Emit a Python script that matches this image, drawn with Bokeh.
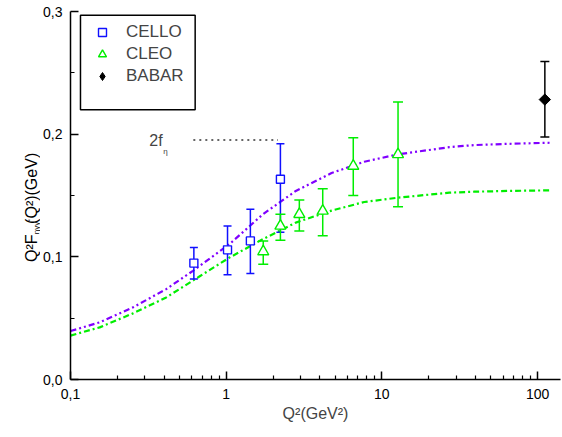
from math import pi
from bokeh.plotting import figure
from bokeh.layouts import row
from bokeh.core.properties import value
from bokeh.models import (FixedTicker, Legend, LegendItem,
                          BoxAnnotation, Label, Range1d)
from bokeh.embed import file_html
from bokeh.resources import INLINE

# ---------------- data ----------------
cello_q2 = [0.62, 1.02, 1.43, 2.23]
cello_val = [0.0949, 0.1057, 0.1130, 0.1632]
cello_lo = [0.0819, 0.0854, 0.0864, 0.1200]
cello_hi = [0.1076, 0.1252, 0.1388, 0.1921]

cleo_q2 = [1.73, 2.23, 2.95, 4.17, 6.55, 12.7]
cleo_val = [0.1043, 0.1252, 0.1347, 0.1374, 0.1740, 0.1835]
cleo_lo = [0.0940, 0.1136, 0.1211, 0.1171, 0.1500, 0.1409]
cleo_hi = [0.1130, 0.1347, 0.1463, 0.1555, 0.1970, 0.2263]

babar_q2 = [111.4]
babar_val = [0.2282]
babar_lo = [0.1976]
babar_hi = [0.2593]

purple_q2 = [0.1, 0.154, 0.252, 0.412, 0.612, 1.05, 1.72, 2.80, 4.75, 7.71,
             12.6, 27.1, 39.2, 64.1, 120]
purple_val = [0.0395, 0.0466, 0.0588, 0.0737, 0.0886, 0.1103, 0.1347, 0.1537,
              0.1683, 0.1775, 0.1835, 0.1894, 0.1911, 0.1921, 0.1930]

green_q2 = [0.1, 0.154, 0.252, 0.412, 0.673, 1.05, 1.72, 2.80, 4.75, 7.71,
            12.6, 27.1, 39.2, 64.1, 120]
green_val = [0.0358, 0.0425, 0.0539, 0.0669, 0.0840, 0.0994, 0.1144, 0.1279,
             0.1377, 0.1447, 0.1482, 0.1523, 0.1531, 0.1537, 0.1542]

feta_q2 = [0.615, 2.15]
feta_val = [0.1952, 0.1952]
feta_label_q2 = 0.3206

x_major = [0.1, 1, 10, 100]
x_minor = [0.2, 0.3, 0.4, 0.5, 0.6, 0.7, 0.8, 0.9,
           2, 3, 4, 5, 6, 7, 8, 9,
           20, 30, 40, 50, 60, 70, 80, 90]
x_labels = {0.1: "0,1", 1: "1", 10: "10", 100: "100"}
y_major = [0.0, 0.1, 0.2, 0.3]
y_minor = [0.05, 0.15, 0.25]
y_labels = {0.0: "0,0", 0.1: "0,1", 0.2: "0,2", 0.3: "0,3"}

# y-axis title pieces (main text, subscript, star, rest)
ytitle_text = ["Q²F", "ηγγ", "*", "(Q²)(GeV)"]
ytitle_size = ["16px", "8px", "6px", "16px"]

BLUE = "#1010ff"
GREEN = "#00ee00"
PURPLE = "#8000ff"
FONT = "Liberation Sans"
TITLE_W = 40
H = 437

# ---------------- y-title strip ----------------
ttl = figure(width=TITLE_W, height=H, x_range=Range1d(0, TITLE_W),
             y_range=Range1d(0, H), output_backend="svg",
             toolbar_location=None, x_axis_location=None,
             y_axis_location=None, min_border=0)
ttl.outline_line_color = None
ttl.xgrid.visible = False
ttl.ygrid.visible = False
# centre of each piece, in strip pixels (y measured from bottom)
ttl_x = [31, 36, 29, 31]
ttl_y = [H - 281, H - 257, H - 248, H - 210]
for t, s, xx, yy in zip(ytitle_text, ytitle_size, ttl_x, ttl_y):
    ttl.text(x=[xx], y=[yy], text=[t], angle=pi / 2,
             text_font=value(FONT), text_font_size=s,
             text_align="center", text_baseline="middle",
             text_color="black")

# ---------------- main figure ----------------
p = figure(width=562 - TITLE_W, height=H, x_axis_type="log",
           x_range=Range1d(0.1, 140.4), y_range=Range1d(0, 0.3),
           output_backend="svg", toolbar_location=None,
           min_border_left=69 - TITLE_W, min_border_right=2,
           min_border_top=11, min_border_bottom=58)
p.outline_line_color = None
p.xgrid.visible = False
p.ygrid.visible = False

for ax in (p.xaxis[0], p.yaxis[0]):
    ax.axis_line_width = 1.5
    ax.major_tick_line_width = 1.5
    ax.minor_tick_line_width = 1.2
    ax.major_tick_in = 8
    ax.major_tick_out = 0
    ax.minor_tick_in = 4
    ax.minor_tick_out = 0
    ax.major_label_text_font = FONT
    ax.major_label_text_font_size = "14px"
    ax.major_label_text_color = "black"

p.xaxis.ticker = FixedTicker(ticks=x_major, minor_ticks=x_minor)
p.xaxis.major_label_overrides = x_labels
p.xaxis.major_label_standoff = 9
p.xaxis.axis_label = "Q²(GeV²)"
p.xaxis.axis_label_text_font = FONT
p.xaxis.axis_label_text_font_size = "16px"
p.xaxis.axis_label_text_font_style = "normal"
p.xaxis.axis_label_standoff = 3

p.yaxis.ticker = FixedTicker(ticks=y_major, minor_ticks=y_minor)
p.yaxis.major_label_overrides = y_labels
p.yaxis.major_label_standoff = 8

# curves
p.line(purple_q2, purple_val, line_color=PURPLE, line_width=2.2,
       line_dash="6 3 2 3 2 3")
p.line(green_q2, green_val, line_color=GREEN, line_width=2.2,
       line_dash="6 3 2 3")

# 2 f_eta dotted line
p.line(feta_q2, feta_val, line_color="#333333", line_width=1.5,
       line_dash="2 4")
p.add_layout(Label(x=feta_label_q2, y=feta_val[0], text="2f",
                   text_baseline="middle", text_font=FONT,
                   text_font_size="16px"))
p.add_layout(Label(x=feta_label_q2, y=feta_val[0], x_offset=14, y_offset=-11,
                   text="η", text_baseline="middle", text_font=FONT,
                   text_font_size="8px"))


def errbars(xs, lo, hi, color, cap):
    p.segment(x0=xs, y0=lo, x1=xs, y1=hi, line_color=color, line_width=1.5)
    p.scatter(xs, lo, marker="dash", size=cap, line_color=color, line_width=1.5)
    p.scatter(xs, hi, marker="dash", size=cap, line_color=color, line_width=1.5)


errbars(cello_q2, cello_lo, cello_hi, BLUE, 8)
errbars(cleo_q2, cleo_lo, cleo_hi, GREEN, 10)
errbars(babar_q2, babar_lo, babar_hi, "black", 9)

r_cello = p.scatter(cello_q2, cello_val, marker="square", size=8,
                    line_color=BLUE, fill_color="white", line_width=1.4)
r_cleo = p.scatter(cleo_q2, cleo_val, marker="triangle", size=11,
                   line_color=GREEN, fill_color="white", line_width=1.4)
p.scatter(babar_q2, babar_val, marker="square", size=8, angle=pi / 4,
          line_color="black", fill_color="black")
# legend-only glyph for BABAR (a diamond, since legends ignore the angle)
r_babar_leg = p.scatter(x=[float("nan")], y=[float("nan")], marker="diamond",
                        size=17, line_color="black", fill_color="black")

# legend frame and legend
p.add_layout(BoxAnnotation(left=0.1159, right=0.632, bottom=0.2199,
                           top=0.2970, fill_alpha=0, line_color="black",
                           line_alpha=1.0, line_width=1.5))
legend = Legend(items=[LegendItem(label="CELLO", renderers=[r_cello]),
                       LegendItem(label="CLEO", renderers=[r_cleo]),
                       LegendItem(label="BABAR", renderers=[r_babar_leg])],
                location=(22, 293), padding=0, margin=0, spacing=2,
                glyph_height=20, glyph_width=20, label_height=20,
                label_standoff=14, border_line_alpha=0,
                background_fill_alpha=0, label_text_font=FONT,
                label_text_font_size="17px")
p.add_layout(legend)

layout = row(ttl, p)
open("out.html", "w").write(file_html(layout, INLINE))
